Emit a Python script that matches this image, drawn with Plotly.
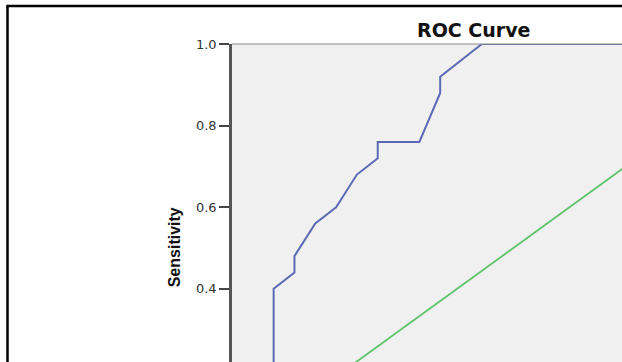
import plotly.graph_objects as go

# ROC curve vertices (1 - specificity, sensitivity)
fpr = [0.074, 0.074, 0.111, 0.111, 0.148, 0.185, 0.222, 0.259, 0.259, 0.333, 0.370, 0.370, 0.444, 1.000]
tpr = [0.20, 0.40, 0.44, 0.48, 0.56, 0.60, 0.68, 0.72, 0.76, 0.76, 0.88, 0.92, 1.00, 1.00]

# chance reference line
ref_x = [0.0, 1.0]
ref_y = [0.0, 1.0]

y_ticks = [0.2, 0.4, 0.6, 0.8, 1.0]
y_tick_labels = ["0.2", "0.4", "0.6", "0.8", "1.0"]

W, H = 622, 362
L, T = 232, 44

fig = go.Figure()
fig.add_trace(go.Scatter(x=ref_x, y=ref_y, mode="lines",
                         line=dict(color="#5ec46c", width=1.8), hoverinfo="skip"))
fig.add_trace(go.Scatter(x=fpr, y=tpr, mode="lines",
                         line=dict(color="#5a6ab4", width=2), hoverinfo="skip"))

pw, ph = W - L, H - T

def px_x(p):
    return (p - L) / pw

def px_y(p):
    return (H - p) / ph

fig.update_layout(
    width=W, height=H,
    margin=dict(l=L, r=0, t=T, b=0, pad=0),
    paper_bgcolor="white",
    plot_bgcolor="#f0f0f0",
    showlegend=False,
    xaxis=dict(range=[0, 0.6931], showgrid=False, zeroline=False,
               showticklabels=False, ticks="", showline=False, fixedrange=True),
    yaxis=dict(range=[0.2206, 1.0], showgrid=False, zeroline=False,
               tickmode="array", tickvals=y_ticks, ticktext=y_tick_labels,
               ticks="outside", ticklen=10, tickwidth=1.5, tickcolor="#444",
               showline=True, linecolor="#555", linewidth=2.5,
               tickfont=dict(family="DejaVu Sans", size=13, color="#333"),
               fixedrange=True),
    shapes=[
        # top border of the plot area
        dict(type="line", xref="paper", yref="paper", x0=0, x1=1, y0=1, y1=1,
             line=dict(color="#8a8a8a", width=1.2)),
        # outer chart frame
        dict(type="line", xref="paper", yref="paper",
             x0=px_x(7.5), x1=px_x(7.5), y0=px_y(6), y1=px_y(H + 5),
             line=dict(color="black", width=2.5)),
        dict(type="line", xref="paper", yref="paper",
             x0=px_x(6.3), x1=px_x(W + 5), y0=px_y(6), y1=px_y(6),
             line=dict(color="black", width=2.5)),
    ],
    annotations=[
        dict(text="<b>ROC Curve</b>", xref="paper", yref="paper",
             x=px_x(473), y=px_y(30.5), xanchor="center", yanchor="middle",
             showarrow=False,
             font=dict(family="DejaVu Sans", size=19, color="#111")),
        dict(text="<b>Sensitivity</b>", xref="paper", yref="paper",
             x=px_x(174), y=px_y(247.3), xanchor="center", yanchor="middle",
             textangle=-90, showarrow=False,
             font=dict(family="Liberation Sans", size=16, color="#111")),
    ],
)

fig.write_html("out.html", config=dict(displayModeBar=False))
